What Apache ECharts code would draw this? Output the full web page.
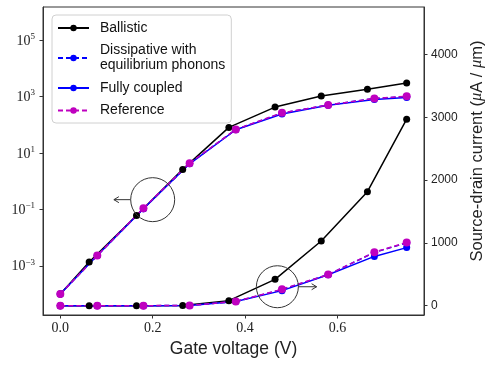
<!DOCTYPE html>
<html><head><meta charset="utf-8">
<script src="https://cdn.jsdelivr.net/npm/echarts@6/dist/echarts.min.js"></script>
<style>html,body{margin:0;padding:0;background:#fff}#c{width:488px;height:365px}</style>
</head><body><div id="c"></div>
<script>
// ---- data (gate voltage in V, source-drain current in uA/um) ----
const ballisticV   = [0, 0.0625, 0.165, 0.265, 0.365, 0.465, 0.565, 0.665, 0.75];
const ballisticI   = [1.0e-4, 1.35e-3, 0.06, 2.6, 80, 420, 1030, 1815, 2970];
const otherV       = [0, 0.08, 0.18, 0.28, 0.38, 0.48, 0.58, 0.68, 0.75];
const dissipativeI = [1.0e-4, 2.3e-3, 0.105, 4.2, 67, 258, 495, 848, 1000];
const fullyI       = [1.0e-4, 2.3e-3, 0.105, 4.1, 66, 240, 492, 785, 925];
const referenceI   = [1.0e-4, 2.3e-3, 0.11, 4.3, 68, 262, 495, 852, 1008];
const xTicks       = [0, 0.2, 0.4, 0.6];
const leftExpTicks = [-3, -1, 1, 3, 5];
const rightTicks   = [0, 1000, 2000, 3000, 4000];
const seriesNames  = ['Ballistic', 'Dissipative with\nequilibrium phonons', 'Fully coupled', 'Reference'];

const chart = echarts.init(document.getElementById('c'), null, {renderer: 'canvas'});

function pairs(xs, ys, log) { return xs.map((x, i) => [x, log ? Math.log10(ys[i]) : ys[i]]); }
function mk(name, xs, ys, axis, color, dashed, size) {
  return {
    type: 'line', name: name, xAxisIndex: 0, yAxisIndex: axis,
    data: pairs(xs, ys, axis === 0),
    symbol: 'circle', symbolSize: size, showSymbol: true,
    lineStyle: {color: color, width: 1.5, type: dashed ? [5, 3] : 'solid'},
    itemStyle: {color: color},
    emphasis: {disabled: true}, animation: false, silent: true
  };
}
const BLK = '#000000', BLU = '#0000ff', MAG = '#bf00bf';
const series = [];
[0, 1].forEach(ax => {
  series.push(mk(seriesNames[0], ballisticV, ballisticI, ax, BLK, false, 7));
  series.push(mk(seriesNames[1], otherV, dissipativeI, ax, BLU, true, 7));
  series.push(mk(seriesNames[2], otherV, fullyI, ax, BLU, false, 7));
  series.push(mk(seriesNames[3], otherV, referenceI, ax, MAG, true, 8));
});

const AX = '#333';
const supMinus = s => String(s).replace('-', '\u2212');
chart.setOption({
  animation: false,
  grid: {left: 43, right: 64, top: 7, bottom: 50, show: true, borderColor: AX, borderWidth: 1, backgroundColor: 'transparent', containLabel: false, outerBoundsMode: 'none'},
  legend: {
    data: seriesNames, orient: 'vertical', left: 52, top: 15,
    itemWidth: 31, itemHeight: 8, itemGap: 7.5,
    padding: [5.5, 6, 5, 5],
    backgroundColor: '#fff', borderColor: '#d0d0d0', borderWidth: 1, borderRadius: 4,
    textStyle: {fontFamily: 'Liberation Sans', fontSize: 14, color: '#111', lineHeight: 15, padding: [0, 0, 0, 6]},
    selectedMode: false
  },
  xAxis: {
    type: 'value', min: -0.0375, max: 0.7875,
    axisLine: {show: true, onZero: false, lineStyle: {color: AX, width: 1}},
    axisTick: {show: true, length: 3.5, customValues: xTicks, lineStyle: {color: AX}},
    axisLabel: {customValues: xTicks, formatter: v => v.toFixed(1), fontFamily: 'Liberation Serif', fontSize: 14, color: '#222', margin: 6},
    splitLine: {show: false},
    name: 'Gate voltage (V)', nameLocation: 'middle', nameGap: 25,
    nameTextStyle: {fontFamily: 'Liberation Sans', fontSize: 17.5, color: '#222'}
  },
  yAxis: [{
    type: 'value', min: -4.745, max: 6.17, position: 'left',
    axisLine: {show: true, onZero: false, lineStyle: {color: AX, width: 1}},
    axisTick: {show: true, length: 3.5, customValues: leftExpTicks, lineStyle: {color: AX}},
    axisLabel: {
      customValues: leftExpTicks, margin: 8,
      formatter: v => '{b|10}{s|' + supMinus(Math.round(v)) + '}',
      rich: {b: {fontFamily: 'Liberation Serif', fontSize: 14, color: '#222', lineHeight: 16, verticalAlign: 'bottom'},
             s: {fontFamily: 'Liberation Serif', fontSize: 9, color: '#222', lineHeight: 16, verticalAlign: 'top'}}
    },
    splitLine: {show: false}
  }, {
    type: 'value', min: -148, max: 4756, position: 'right',
    axisLine: {show: true, onZero: false, lineStyle: {color: AX, width: 1}},
    axisTick: {show: true, length: 3.5, customValues: rightTicks, lineStyle: {color: AX}},
    axisLabel: {customValues: rightTicks, formatter: v => String(v), fontFamily: 'Liberation Sans', fontSize: 12, color: '#222', margin: 7},
    splitLine: {show: false},
    name: 'Source-drain current ({i|\u03bc}A / {i|\u03bc}m)', nameLocation: 'middle', nameRotate: 90, nameGap: 31,
    nameTextStyle: {fontFamily: 'Liberation Sans', fontSize: 16.5, color: '#222', padding: [0, 0, 0, 20],
      rich: {i: {fontFamily: 'Liberation Serif', fontStyle: 'italic', fontSize: 16.5, color: '#222'}}}
  }],
  series: series
});

// ---- annotations (circles with arrows), placed through the axes ----
const ann1 = {x: 0.2, y: 0.22, arrowFrom: 0.152, arrowTo: 0.116};   // left (log) axis
const ann2 = {x: 0.47, y: 302, arrowFrom: 0.515, arrowTo: 0.555};   // right (linear) axis
function arrow(p0, p1) {
  const dir = Math.sign(p1[0] - p0[0]);
  return [
    {type: 'polyline', shape: {points: [p0, p1]}, style: {stroke: AX, lineWidth: 1, fill: null}, silent: true},
    {type: 'polyline', shape: {points: [[p1[0] - dir * 5, p1[1] - 3], p1, [p1[0] - dir * 5, p1[1] + 3]]}, style: {stroke: AX, lineWidth: 1, fill: null}, silent: true}
  ];
}
const c1 = chart.convertToPixel({xAxisIndex: 0, yAxisIndex: 0}, [ann1.x, Math.log10(ann1.y)]);
const a1s = chart.convertToPixel({xAxisIndex: 0, yAxisIndex: 0}, [ann1.arrowFrom, Math.log10(ann1.y)]);
const a1e = chart.convertToPixel({xAxisIndex: 0, yAxisIndex: 0}, [ann1.arrowTo, Math.log10(ann1.y)]);
const c2 = chart.convertToPixel({xAxisIndex: 0, yAxisIndex: 1}, [ann2.x, ann2.y]);
const a2s = chart.convertToPixel({xAxisIndex: 0, yAxisIndex: 1}, [ann2.arrowFrom, ann2.y]);
const a2e = chart.convertToPixel({xAxisIndex: 0, yAxisIndex: 1}, [ann2.arrowTo, ann2.y]);
chart.setOption({
  graphic: [
    {type: 'circle', shape: {cx: c1[0], cy: c1[1], r: 22}, style: {stroke: AX, lineWidth: 1, fill: null}, silent: true, z: 10},
    {type: 'circle', shape: {cx: c2[0], cy: c2[1], r: 21}, style: {stroke: AX, lineWidth: 1, fill: null}, silent: true, z: 10}
  ].concat(arrow(a1s, a1e), arrow(a2s, a2e))
});
</script></body></html>
